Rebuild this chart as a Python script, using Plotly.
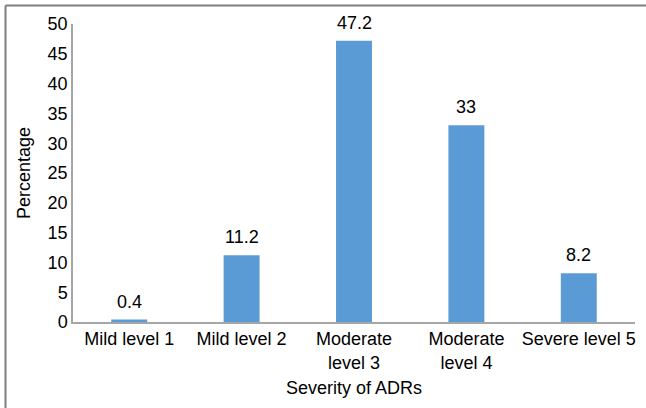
import plotly.graph_objects as go

categories = ["Mild level 1", "Mild level 2", "Moderate<br>level 3", "Moderate<br>level 4", "Severe level 5"]
percentages = [0.4, 11.2, 47.2, 33, 8.2]
labels = ["0.4", "11.2", "47.2", "33", "8.2"]
y_ticks = [0, 5, 10, 15, 20, 25, 30, 35, 40, 45, 50]

W, H = 646, 408
L, R, T, B = 73, 11, 24, 86
pw, ph = W - L - R, H - T - B

def px_x(p):
    return (p - L) / pw

def px_y(p):
    return (H - B - p) / ph

fig = go.Figure(go.Bar(
    x=categories, y=percentages,
    marker=dict(color="#5b9bd5", line=dict(width=0)),
    cliponaxis=False,
))

annotations = [
    dict(x=c, y=v, text=t, xref="x", yref="y", showarrow=False,
         yanchor="bottom", yshift=6, font=dict(size=18, color="black"))
    for c, v, t in zip(categories, percentages, labels)
]

fig.update_layout(
    width=W, height=H,
    margin=dict(l=L, r=R, t=T, b=B, autoexpand=False),
    paper_bgcolor="white", plot_bgcolor="white",
    font=dict(family="Liberation Sans, Arial, sans-serif", size=18, color="black"),
    bargap=0.68,
    showlegend=False,
    annotations=annotations,
    xaxis=dict(
        showline=True, linecolor="#a6a6a6", linewidth=1.5,
        ticks="", showgrid=False, automargin=False,
        title=dict(text="Severity of ADRs", standoff=10, font=dict(size=18)),
        tickfont=dict(size=18),
    ),
    yaxis=dict(
        range=[0, 50], tickvals=y_ticks, showline=True, linecolor="#a6a6a6", linewidth=1.5,
        ticks="", showgrid=False, zeroline=False, automargin=False,
        title=dict(text="Percentage", standoff=12, font=dict(size=18)),
        tickfont=dict(size=18),
    ),
    shapes=[
        dict(type="line", xref="paper", yref="paper",
             x0=px_x(5.5), x1=px_x(5.5), y0=px_y(5.5), y1=px_y(H + 5),
             line=dict(color="#7f7f7f", width=2)),
        dict(type="line", xref="paper", yref="paper",
             x0=px_x(5.5), x1=px_x(W + 5), y0=px_y(5.5), y1=px_y(5.5),
             line=dict(color="#7f7f7f", width=2)),
    ],
)

fig.write_html("out.html", config={"displayModeBar": False},
               post_script="document.body.style.margin='0';document.body.style.overflow='hidden';")
